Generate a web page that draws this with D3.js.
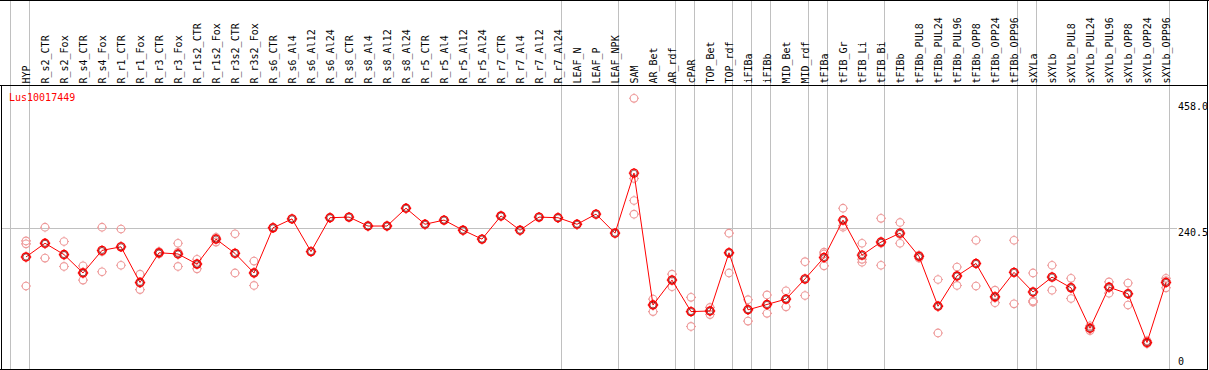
<!DOCTYPE html>
<html>
<head>
<meta charset="utf-8">
<script src="https://cdn.jsdelivr.net/npm/d3@7"></script>
<style>
  body { margin: 0; background: #fff; }
  svg { display: block; }
  svg text { font-family: "DejaVu Sans Mono", monospace; font-size: 10px; }
</style>
</head>
<body>
<div id="container"></div>
<script>
/* CONSTANTS AND GLOBALS */
const width = 1209;
const height = 370;

/* DATA */
const title = "Lus10017449";

const categories = [
  "HYP", "R_s2_CTR", "R_s2_Fox", "R_s4_CTR", "R_s4_Fox", "R_r1_CTR", "R_r1_Fox",
  "R_r3_CTR", "R_r3_Fox", "R_r1s2_CTR", "R_r1s2_Fox", "R_r3s2_CTR", "R_r3s2_Fox",
  "R_s6_CTR", "R_s6_Al4", "R_s6_Al12", "R_s6_Al24", "R_s8_CTR", "R_s8_Al4",
  "R_s8_Al12", "R_s8_Al24", "R_r5_CTR", "R_r5_Al4", "R_r5_Al12", "R_r5_Al24",
  "R_r7_CTR", "R_r7_Al4", "R_r7_Al12", "R_r7_Al24", "LEAF_N", "LEAF_P", "LEAF_NPK",
  "SAM", "AR_Bet", "AR_rdf", "cPAR", "TOP_Bet", "TOP_rdf", "iFIBa", "iFIBb",
  "MID_Bet", "MID_rdf", "tFIBa", "tFIB_Gr", "tFIB_Li", "tFIB_Bi", "tFIBb",
  "tFIBb_PUL8", "tFIBb_PUL24", "tFIBb_PUL96", "tFIBb_OPP8", "tFIBb_OPP24", "tFIBb_OPP96",
  "sXYLa", "sXYLb", "sXYLb_PUL8", "sXYLb_PUL24", "sXYLb_PUL96", "sXYLb_OPP8",
  "sXYLb_OPP24", "sXYLb_OPP96"
];

// mean expression per sample (the red line)
const means = [
  191, 214, 195, 164, 202, 208, 148, 198, 196, 179, 221, 197, 164,
  240, 255, 200, 257, 258, 243, 243, 273, 246, 253, 236, 221,
  260, 236, 258, 257, 246, 263, 231,
  332, 110, 152, 99, 100, 198, 102, 111, 120, 154,
  190, 253, 194, 216, 231, 192, 108, 159, 180, 124, 165,
  132, 157, 139, 71, 140, 129, 47, 148
];

// replicate values per sample (pale circles)
const replicates = [
  [218, 213, 142], [241, 189, 213], [217, 175, 194], [176, 152, 165], [241, 166, 200],
  [238, 177, 209], [162, 136, 147], [200, 196, 197], [214, 175, 199], [187, 171, 179],
  [223, 216, 224], [230, 164, 198], [184, 143, 165],
  [240], [255], [200], [257], [258], [243], [243], [273], [246], [253], [236], [221],
  [260], [236], [258], [257], [246], [263], [231],
  [458, 323, 286, 263], [120, 99, 111], [162, 141, 153], [123, 74, 99], [106, 94, 100],
  [231, 164, 198], [119, 83, 103], [127, 96, 111], [134, 107, 120], [183, 126, 153],
  [199, 176, 196], [273, 241, 244], [214, 182, 187], [256, 177, 214], [249, 214, 229],
  [194, 189, 193], [153, 63, 109], [174, 143, 159], [219, 142, 180], [135, 114, 122],
  [219, 112, 165],
  [164, 117, 115], [177, 135, 158], [155, 121, 140], [75, 67, 71], [149, 130, 141],
  [147, 110, 129], [50, 45, 47], [155, 139, 151]
];

// samples that start a new group (vertical separators)
const groupStarts = ["HYP", "R_s2_CTR", "LEAF_N", "SAM", "cPAR", "TOP_Bet", "iFIBa", "iFIBb",
  "MID_Bet", "tFIBa", "tFIB_Gr", "tFIBb", "sXYLa", "sXYLb"];

const yTicks = [458.0, 240.5, 0];
const gridTicks = [240.5];

/* SCALES */
const xScale = d3.scaleBand()
  .domain(categories)
  .range([10.5, 10.5 + 19 * categories.length])
  .padding(0);
const xPos = d => xScale(d) + 15.5;

const yScale = d3.scaleLinear()
  .domain([0, 458])
  .range([370.4, 98.3]);

/* HTML ELEMENTS */
const svg = d3.select("#container")
  .append("svg")
  .attr("width", width)
  .attr("height", height);

// separators
const sepX = groupStarts.map(c => xScale(c)).concat([xScale.range()[1]]);
svg.append("g")
  .selectAll("line")
  .data(sepX)
  .join("line")
  .attr("x1", d => d).attr("x2", d => d)
  .attr("y1", 0).attr("y2", height)
  .attr("stroke", "#c0c0c0")
  .attr("stroke-width", 1);

// horizontal grid
svg.append("g")
  .selectAll("line")
  .data(gridTicks)
  .join("line")
  .attr("x1", 1).attr("x2", 1177)
  .attr("y1", d => Math.round(yScale(d)) + 0.5)
  .attr("y2", d => Math.round(yScale(d)) + 0.5)
  .attr("stroke", "#c0c0c0");

// frame
svg.append("line").attr("x1", 0).attr("x2", width).attr("y1", 0.5).attr("y2", 0.5).attr("stroke", "#000");
svg.append("line").attr("x1", 0).attr("x2", 1208).attr("y1", 85.5).attr("y2", 85.5).attr("stroke", "#000");
svg.append("line").attr("x1", 0).attr("x2", 1208).attr("y1", 369.5).attr("y2", 369.5).attr("stroke", "#000");
svg.append("line").attr("x1", 1.5).attr("x2", 1.5).attr("y1", 85).attr("y2", height).attr("stroke", "#000");
svg.append("line").attr("x1", 1207.5).attr("x2", 1207.5).attr("y1", 0).attr("y2", height).attr("stroke", "#000");

// category labels
svg.append("g")
  .selectAll("text")
  .data(categories)
  .join("text")
  .attr("transform", d => `translate(${xPos(d) + 3.5},83.5) rotate(-90)`)
  .attr("text-anchor", "start")
  .attr("fill", "#000")
  .text(d => d);

// y labels
const yLabelOffset = v => v === 458 ? 12 : v === 0 ? -5 : 8.8;
svg.append("g")
  .selectAll("text")
  .data(yTicks)
  .join("text")
  .attr("x", 1178)
  .attr("y", d => yScale(d) + yLabelOffset(d))
  .attr("fill", "#000")
  .text(d => d === 0 ? "0" : d.toFixed(1));

// title
svg.append("text")
  .attr("x", 9)
  .attr("y", 100.5)
  .attr("fill", "#ff0000")
  .text(title);

// marker shape: ring with small ticks
const marker = r => `M${-r},0a${r},${r} 0 1,0 ${2 * r},0a${r},${r} 0 1,0 ${-2 * r},0`
  + `M0,${-r - 1.2}V${-r + 0.4}M0,${r - 0.4}V${r + 1.2}M${-r - 1.2},0H${-r + 0.4}M${r - 0.4},0H${r + 1.2}`;

// replicates
const repData = categories.flatMap((c, i) => replicates[i].map(v => ({ c, v })));
svg.append("g")
  .selectAll("path")
  .data(repData)
  .join("path")
  .attr("transform", d => `translate(${xPos(d.c)},${yScale(d.v)})`)
  .attr("d", marker(3.8))
  .attr("fill", "none")
  .attr("stroke", "#ee9a9a")
  .attr("stroke-width", 1.1);

// mean line
const meanData = categories.map((c, i) => ({ c, v: means[i] }));
svg.append("path")
  .datum(meanData)
  .attr("d", d3.line().x(d => xPos(d.c)).y(d => yScale(d.v)))
  .attr("fill", "none")
  .attr("stroke", "#ff0000")
  .attr("stroke-width", 1);

// mean markers
const meanG = svg.append("g")
  .selectAll("g")
  .data(meanData)
  .join("g")
  .attr("transform", d => `translate(${xPos(d.c)},${yScale(d.v)})`);
meanG.append("path")
  .attr("d", marker(4))
  .attr("fill", "none")
  .attr("stroke", "#ff0000")
  .attr("stroke-width", 1.4);
meanG.append("circle")
  .attr("r", 3)
  .attr("fill", "none")
  .attr("stroke", "#550000")
  .attr("stroke-width", 0.6);
</script>
</body>
</html>
